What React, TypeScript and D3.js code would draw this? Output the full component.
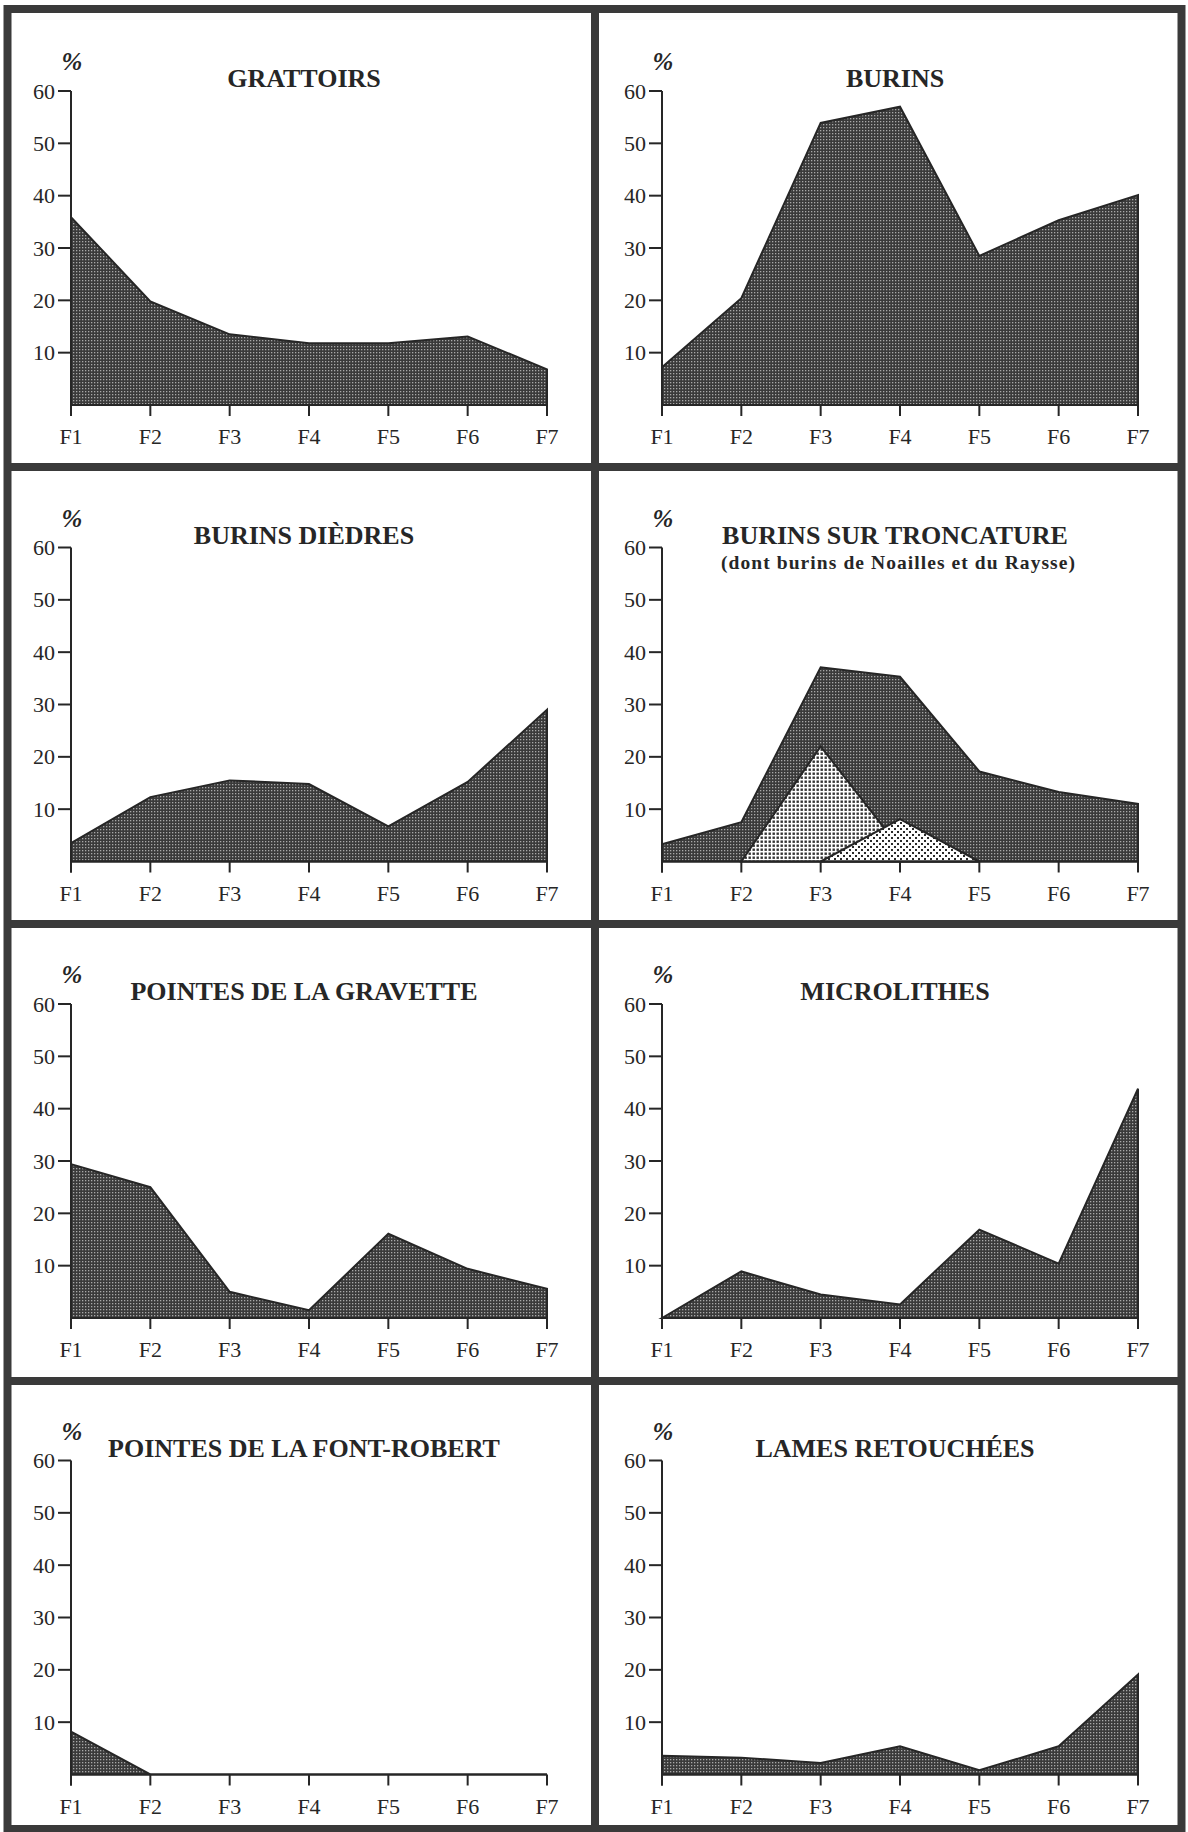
import React from "react";
import * as d3 from "d3";

// ---- data ----
const categories = ["F1", "F2", "F3", "F4", "F5", "F6", "F7"];
const yTicks = [10, 20, 30, 40, 50, 60];

const grattoirs = [35.9, 19.8, 13.5, 11.8, 11.8, 13.1, 6.8];
const burins = [7.2, 20.4, 53.9, 57.0, 28.5, 35.3, 40.1];
const burinsDiedres = [3.5, 12.3, 15.5, 14.8, 6.7, 15.2, 29.0];
const burinsTroncature = [3.3, 7.5, 37.1, 35.3, 17.2, 13.3, 11.0];
const burinsNoailles: (number | null)[] = [null, 0, 22.0, 2.5, 0, null, null];
const burinsRaysse: (number | null)[] = [null, null, 0, 8.1, 0, null, null];
const gravette = [29.4, 25.0, 5.0, 1.5, 16.1, 9.4, 5.6];
const microlithes = [0, 8.9, 4.5, 2.6, 16.9, 10.4, 43.8];
const fontRobert = [8.2, 0, 0, 0, 0, 0, 0];
const lamesRetouchees = [3.6, 3.2, 2.2, 5.4, 0.8, 5.4, 19.1];

const titles = [
  "GRATTOIRS",
  "BURINS",
  "BURINS DIÈDRES",
  "BURINS SUR TRONCATURE",
  "POINTES DE LA GRAVETTE",
  "MICROLITHES",
  "POINTES DE LA FONT-ROBERT",
  "LAMES RETOUCHÉES",
];
const troncatureSubtitle = "(dont burins de Noailles et du Raysse)";

// ---- layout ----
const W = 1188;
const H = 1832;
const colAxisX = [71, 662];
const rowTopY = [91, 547.5, 1004, 1460.5];
const plotW = 476;
const plotH = 314;
const INK = "#262626";
const FRAME = "#3a3a3a";
const SERIF = "'Liberation Serif', 'Times New Roman', serif";

type Layer = { values: (number | null)[]; fill: string };

function Panel({
  ax,
  top,
  title,
  subtitle,
  layers,
}: {
  ax: number;
  top: number;
  title: string;
  subtitle?: string;
  layers: Layer[];
}) {
  const x = d3.scalePoint<string>().domain(categories).range([ax, ax + plotW]);
  const y = d3.scaleLinear().domain([0, 60]).range([top + plotH, top]);
  const y0 = y(0);
  const area = d3
    .area<number | null>()
    .defined((d) => d != null)
    .x((_, i) => x(categories[i]) as number)
    .y0(y0)
    .y1((d) => y(d as number));

  return (
    <g>
      {layers.map((l, i) => (
        <path
          key={i}
          d={area(l.values) || ""}
          fill={l.fill}
          stroke={INK}
          strokeWidth={2}
          strokeLinejoin="miter"
        />
      ))}
      {/* x axis baseline */}
      <line x1={ax} x2={ax + plotW} y1={y0} y2={y0} stroke={INK} strokeWidth={2} />
      {/* y axis */}
      <line x1={ax} x2={ax} y1={top} y2={y0 + 11} stroke={INK} strokeWidth={2} />
      {yTicks.map((t) => (
        <g key={t}>
          <line x1={ax - 13} x2={ax} y1={y(t)} y2={y(t)} stroke={INK} strokeWidth={2} />
          <text
            x={ax - 16}
            y={y(t) + 7.5}
            textAnchor="end"
            fontFamily={SERIF}
            fontSize={22}
            fill={INK}
          >
            {t}
          </text>
        </g>
      ))}
      {categories.map((c) => (
        <g key={c}>
          <line
            x1={x(c) as number}
            x2={x(c) as number}
            y1={y0}
            y2={y0 + 11}
            stroke={INK}
            strokeWidth={2}
          />
          <text
            x={x(c) as number}
            y={y0 + 39}
            textAnchor="middle"
            fontFamily={SERIF}
            fontSize={22}
            fill={INK}
          >
            {c}
          </text>
        </g>
      ))}
      <text
        x={ax + 1}
        y={top - 21}
        textAnchor="middle"
        fontFamily={SERIF}
        fontSize={25}
        fontWeight="bold"
        fontStyle="italic"
        fill={INK}
      >
        %
      </text>
      <text
        x={ax + 233}
        y={top - 4}
        textAnchor="middle"
        fontFamily={SERIF}
        fontSize={26}
        fontWeight="bold"
        fill={INK}
      >
        {title}
      </text>
      {subtitle && (
        <text
          x={ax + 236}
          y={top + 21}
          textAnchor="middle"
          fontFamily={SERIF}
          fontSize={19.5}
          fontWeight="bold"
          fill={INK}
          textLength={354}
          lengthAdjust="spacing"
        >
          {subtitle}
        </text>
      )}
    </g>
  );
}

export default function App() {
  const dark = "url(#patDark)";
  const panels: { title: string; subtitle?: string; layers: Layer[] }[] = [
    { title: titles[0], layers: [{ values: grattoirs, fill: dark }] },
    { title: titles[1], layers: [{ values: burins, fill: dark }] },
    { title: titles[2], layers: [{ values: burinsDiedres, fill: dark }] },
    {
      title: titles[3],
      subtitle: troncatureSubtitle,
      layers: [
        { values: burinsTroncature, fill: dark },
        { values: burinsNoailles, fill: "url(#patGrid)" },
        { values: burinsRaysse, fill: "url(#patDots)" },
      ],
    },
    { title: titles[4], layers: [{ values: gravette, fill: dark }] },
    { title: titles[5], layers: [{ values: microlithes, fill: dark }] },
    { title: titles[6], layers: [{ values: fontRobert, fill: dark }] },
    { title: titles[7], layers: [{ values: lamesRetouchees, fill: dark }] },
  ];

  return (
    <svg
      width={W}
      height={H}
      viewBox={`0 0 ${W} ${H}`}
      style={{ position: "absolute", left: 0, top: 0, background: "#fff" }}
    >
      <defs>
        <pattern id="patDark" width={3} height={3} patternUnits="userSpaceOnUse">
          <rect width={3} height={3} fill="#3a3a3a" />
          <rect x={1} y={1} width={1.3} height={1.3} fill="#a8a8a8" />
        </pattern>
        <pattern id="patGrid" width={4} height={4} patternUnits="userSpaceOnUse">
          <rect width={4} height={4} fill="#ffffff" />
          <rect x={0.5} y={0.5} width={2.4} height={2.4} fill="#333" />
        </pattern>
        <pattern id="patDots" width={6} height={6} patternUnits="userSpaceOnUse">
          <rect width={6} height={6} fill="#ffffff" />
          <rect x={0} y={0} width={2} height={2} fill="#2a2a2a" />
          <rect x={3} y={3} width={2} height={2} fill="#2a2a2a" />
        </pattern>
      </defs>
      <rect x={0} y={0} width={W} height={H} fill="#fff" />
      {panels.map((p, i) => (
        <Panel
          key={i}
          ax={colAxisX[i % 2]}
          top={rowTopY[Math.floor(i / 2)]}
          title={p.title}
          subtitle={p.subtitle}
          layers={p.layers}
        />
      ))}
      {/* frame and dividers */}
      <rect x={7.5} y={9} width={1174} height={1820} fill="none" stroke={FRAME} strokeWidth={8} />
      <line x1={595} x2={595} y1={9} y2={1829} stroke={FRAME} strokeWidth={8} />
      {[467, 924, 1381].map((yy) => (
        <line key={yy} x1={7.5} x2={1181.5} y1={yy} y2={yy} stroke={FRAME} strokeWidth={8} />
      ))}
    </svg>
  );
}
